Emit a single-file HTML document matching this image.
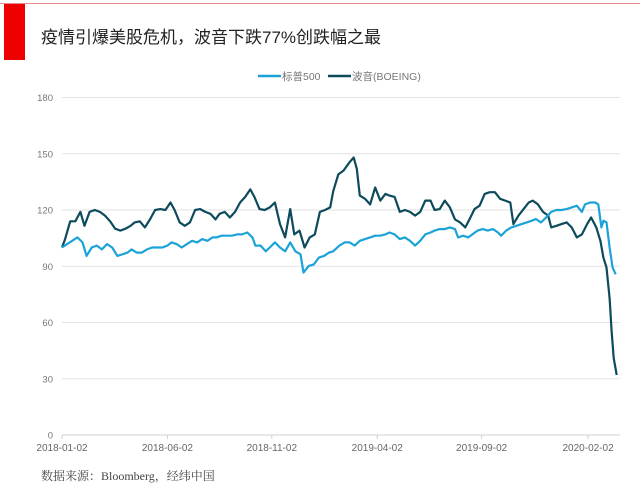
<!DOCTYPE html>
<html><head><meta charset="utf-8">
<style>
html,body{margin:0;padding:0;background:#fff;}
body{width:640px;height:486px;position:relative;overflow:hidden;font-family:"Liberation Sans","Noto Sans CJK SC",sans-serif;}
.topline{position:absolute;left:0;top:3px;width:640px;height:1px;background:#e88;}
.redbar{position:absolute;left:4px;top:4px;width:21px;height:56px;background:#ee0000;}
.title{position:absolute;left:41px;top:23px;font-size:17px;color:#222;white-space:nowrap;font-family:"Liberation Sans","Noto Sans CJK SC",sans-serif;}
.foot{position:absolute;left:41px;top:467px;font-size:12px;color:#444;white-space:nowrap;font-family:"Liberation Serif","Noto Serif CJK SC",serif;}
svg{position:absolute;left:0;top:0;}
</style></head>
<body>
<div class="topline"></div>
<div class="redbar"></div>
<div class="title">疫情引爆美股危机，波音下跌77%创跌幅之最</div>
<svg id="chart" width="640" height="486"></svg>
<div class="foot">数据来源：Bloomberg，经纬中国</div>
<script>
const yTicks=[0,30,60,90,120,150,180];
const xTickDays=[0,103,205,308,410,514];
const xTickLabels=["2018-01-02","2018-06-02","2018-11-02","2019-04-02","2019-09-02","2020-02-02"];
const seriesNames=["标普500","波音(BOEING)"];
const spDays=[0,5,10,15,20,24,29,34,39,44,49,54,59,64,68,73,78,83,88,93,98,103,107,112,117,122,127,132,137,142,147,151,156,161,166,171,176,181,186,189,194,199,203,208,213,218,223,228,233,236,241,246,251,256,261,265,271,276,281,286,291,296,301,306,311,316,320,325,330,335,340,345,350,355,360,364,369,374,379,384,387,392,397,401,406,411,416,421,426,429,434,439,444,449,454,459,463,468,473,478,483,488,493,498,503,508,511,516,521,524,527,529,532,535,538,541];
const spVals=[100,101.8,103.6,105.4,102.7,95.5,100,101,99,101.8,100,95.5,96.4,97.3,99,97.3,97.3,99,100,100,100,101,102.7,101.8,100,101.8,103.6,102.7,104.5,103.6,105.4,105.4,106.3,106.3,106.3,107,107,108,105.4,101,101,98,100,102.7,100,98,102.7,98,96.4,86.6,90.2,91,94.6,95.5,97.3,98,101,102.7,102.7,101,103.6,104.5,105.4,106.3,106.3,107,108,107,104.5,105.4,103.6,101,103.6,107,108,109,109.8,109.8,110.7,109.8,105.4,106.3,105.4,107,109,109.8,109,109.8,108,106.3,109,110.7,111.6,112.5,113.4,114.3,115.2,113.4,116,119,120,120,120.5,121.4,122.3,119,123,124,124,123,110.7,114.3,113.4,100,89.3,85.7];
const baDays=[0,3,8,13,18,22,27,32,37,42,47,52,57,62,67,71,76,81,86,91,96,101,106,110,115,120,125,130,135,140,145,150,154,159,164,169,174,179,184,188,193,198,203,208,213,218,223,227,232,237,242,247,252,257,262,265,270,275,281,285,288,291,296,301,306,311,316,320,325,330,335,340,345,350,355,360,364,369,374,379,384,389,394,399,403,408,413,418,423,428,433,438,441,446,451,456,460,465,470,475,478,483,488,493,498,503,508,513,517,522,526,529,532,535,537,539,542];
const baVals=[100,104.5,114,114,119,111.6,119,120,119,117,114,110,109,110,111.6,113.4,114,110.7,115,120,120.5,120,124,120,113.4,111.6,113.4,120,120.5,119,118,115,118,119,116,119,124,127,131,127,120.5,120,121.4,124,112.5,105.4,120.5,107,109,100,105.4,107,119,120,121.4,130,139,141,145.5,148,142,127.7,126,123,132,125,128.6,127.7,127,119,120,119,117,119,125,125,120,120.5,125,121.4,115,113.4,110.7,116,120.5,122.3,128.6,129.5,129.5,126,125,124,112.5,117,120.5,124,125,123,119,117,110.7,111.6,112.5,113.4,110.7,105.4,107,112.5,116,110.7,103.6,94.6,89.3,73,55.4,41,32];

const NS="http://www.w3.org/2000/svg";
const svg=document.getElementById('chart');
const X0=62,X1=620,Y0=435,Y180=97.5;
function xs(d){return X0+d*1.0235;}
function ys(v){return Y0-(v/180)*(Y0-Y180);}
function mk(tag,attrs){const e=document.createElementNS(NS,tag);for(const k in attrs)e.setAttribute(k,attrs[k]);svg.appendChild(e);return e;}

yTicks.forEach(t=>{
  const g=mk('line',{x1:X0,x2:X1,y1:ys(t),y2:ys(t),stroke:t===0?'#d0d0d0':'#e2e2e2','stroke-width':1});
  
  
  const tx=mk('text',{x:53,y:ys(t)+3.5,'text-anchor':'end','font-size':9.5,fill:'#777','font-family':'Liberation Sans, sans-serif'});
  tx.textContent=t;
  
  
});
xTickDays.forEach((d,i)=>{
  const tk=mk('line',{x1:xs(d),x2:xs(d),y1:Y0,y2:Y0+4,stroke:'#d0d0d0','stroke-width':1});
  
  
  const tx=mk('text',{x:xs(d),y:451,'text-anchor':'middle','font-size':10,fill:'#666','font-family':'Liberation Sans Narrow, Liberation Sans, sans-serif'});
  tx.textContent=xTickLabels[i];
  
  
});
function path(days,vals){return days.map((d,i)=>(i?'L':'M')+xs(d).toFixed(1)+','+ys(vals[i]).toFixed(1)).join('');}
const ba=mk('path',{d:path(baDays,baVals),fill:'none',stroke:'#0c4a5c','stroke-width':2.2,'stroke-linejoin':'round'});


const sp=mk('path',{d:path(spDays,spVals),fill:'none',stroke:'#1ba3d8','stroke-width':2.2,'stroke-linejoin':'round'});



const legColors=['#1ba3d8','#0c4a5c'];
const legX=[258,328];
seriesNames.forEach((n,i)=>{
  const l=mk('line',{x1:legX[i],x2:legX[i]+23,y1:76,y2:76,stroke:legColors[i],'stroke-width':2.5});
  
  
  const t=mk('text',{x:legX[i]+24,y:80,'font-size':10.5,fill:'#777','font-family':'Liberation Sans, Noto Sans CJK SC, sans-serif'});
  t.textContent=n;
  
  
});
</script>
</body></html>
